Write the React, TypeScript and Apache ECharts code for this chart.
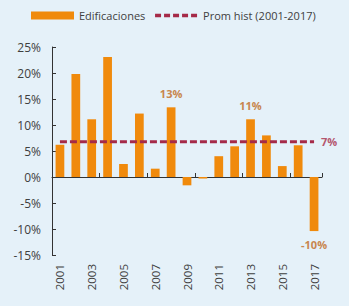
import React, { useEffect, useRef } from "react";
import * as echarts from "echarts";

const years = ["2001","2002","2003","2004","2005","2006","2007","2008","2009","2010","2011","2012","2013","2014","2015","2016","2017"];
const edificaciones = [6.2, 19.8, 11.1, 23.1, 2.5, 12.2, 1.6, 13.4, -1.6, -0.3, 4.0, 5.9, 11.1, 8.0, 2.1, 6.1, -10.4];
const promHist = 6.8;
const labeledYears = ["2008", "2013", "2017"];

export default function App() {
  const ref = useRef<HTMLDivElement>(null);
  useEffect(() => {
    const chart = echarts.init(ref.current!, null, { renderer: "svg" });
    const font = "'Open Sans', sans-serif";
    chart.setOption({
      animation: false,
      backgroundColor: "#E5F1F9",
      textStyle: { fontFamily: font },
      legend: {
        top: 5,
        left: 26,
        itemGap: 8,
        itemWidth: 43,
        itemHeight: 8,
        textStyle: { fontSize: 11, color: "#404040", fontFamily: font },
        data: [
          { name: "Edificaciones", icon: "rect" },
          {
            name: "Prom hist (2001-2017)",
            itemStyle: { opacity: 0 },
            lineStyle: { color: "#A52A48", width: 3.5, type: [6, 3] },
          },
        ],
      },
      grid: { left: 52, right: 27, top: 47, bottom: 51 },
      xAxis: [
        {
          type: "category",
          data: years,
          position: "bottom",
          axisLine: { show: false, onZero: false },
          axisTick: { show: false },
          axisLabel: {
            interval: 1,
            rotate: 90,
            fontSize: 11.5,
            color: "#404040",
            margin: 9,
            fontFamily: font,
          },
        },
        {
          type: "category",
          data: years,
          position: "bottom",
          axisLine: { show: true, onZero: true, lineStyle: { color: "#333", width: 1 } },
          axisTick: { show: true, inside: true, length: 4, lineStyle: { color: "#333" } },
          axisLabel: { show: false },
        },
      ],
      yAxis: {
        type: "value",
        min: -15,
        max: 25,
        interval: 5,
        splitLine: { show: false },
        axisLine: { show: true, lineStyle: { color: "#333", width: 1 } },
        axisTick: { show: true, inside: true, length: 4, lineStyle: { color: "#333" } },
        axisLabel: {
          formatter: "{value}%",
          fontSize: 12,
          color: "#404040",
          margin: 11,
          fontFamily: font,
        },
      },
      series: [
        {
          name: "Edificaciones",
          type: "bar",
          xAxisIndex: 0,
          barWidth: "55%",
          itemStyle: { color: "#F08A0C" },
          data: edificaciones.map((v, i) => ({
            value: v,
            label: {
              show: labeledYears.includes(years[i]),
              position: v >= 0 ? "top" : "bottom",
              distance: 8,
              formatter: (p: any) => `${Math.round(p.value)}%`,
              color: "#C8864E",
              fontSize: 11,
              fontWeight: "bold",
              fontFamily: font,
            },
          })),
        },
        {
          name: "Prom hist (2001-2017)",
          type: "line",
          xAxisIndex: 0,
          symbol: "none",
          lineStyle: { color: "#A52A48", width: 3, type: [7, 3] },
          itemStyle: { color: "#A52A48" },
          endLabel: {
            show: true,
            distance: 7,
            formatter: (p: any) => `${Math.round(p.value)}%`,
            color: "#B4566E",
            fontSize: 11,
            fontWeight: "bold",
            fontFamily: font,
          },
          data: years.map(() => promHist),
          z: 5,
        },
      ],
    });
    return () => chart.dispose();
  }, []);
  return (
    <div
      ref={ref}
      style={{ position: "absolute", left: 0, top: 0, width: 349, height: 306 }}
    />
  );
}
